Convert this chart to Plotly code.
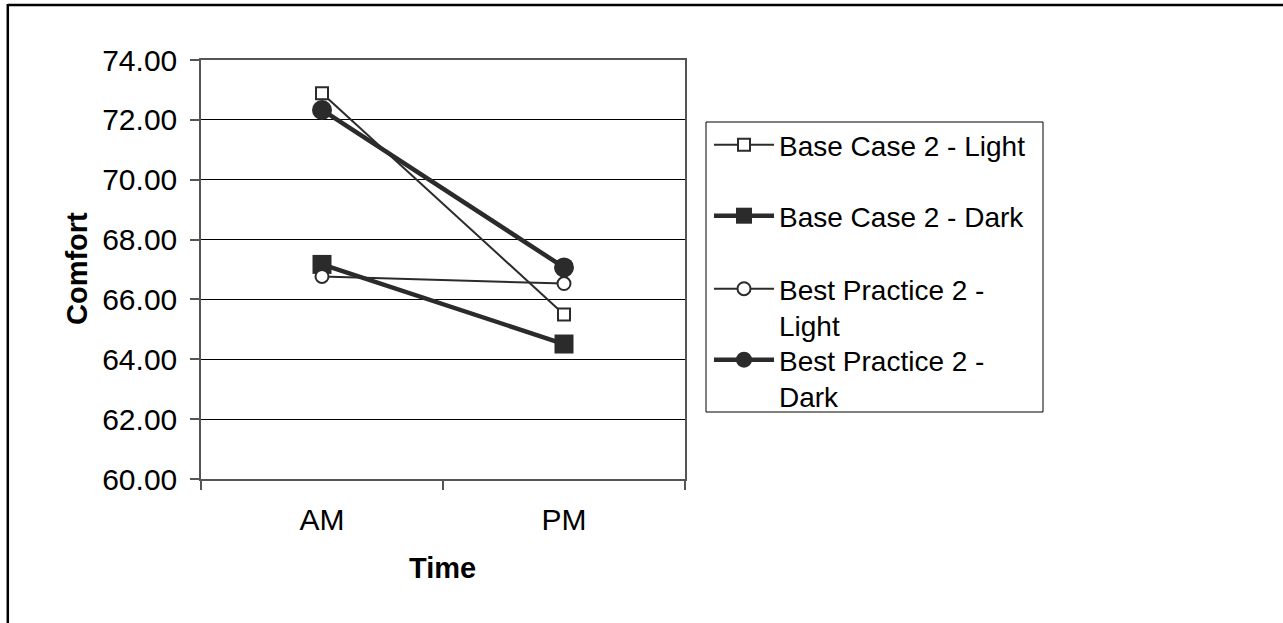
import plotly.graph_objects as go

# ---- data ----
times = ["AM", "PM"]
base_light = [72.89, 65.50]
base_dark = [67.17, 64.51]
best_light = [66.77, 66.53]
best_dark = [72.33, 67.07]
y_ticks = [60, 62, 64, 66, 68, 70, 72, 74]
series_names = ["Base Case 2 - Light", "Base Case 2 - Dark",
                "Best Practice 2 -<br>Light", "Best Practice 2 -<br>Dark"]

W, H = 1283, 623
L, R, T, B = 201, 685, 60, 479  # plot area in px
FONT = "Liberation Sans, Arial, sans-serif"
INK = "#2b2b2b"


def px(x):
    return (x - L) / (R - L)


def py(y):
    return (B - y) / (B - T)


fig = go.Figure()

styles = [
    dict(data=base_light, symbol="square", size=12, fill="white", lw=2, mlw=2),
    dict(data=base_dark, symbol="square", size=19, fill=INK, lw=4.5, mlw=0),
    dict(data=best_light, symbol="circle", size=13, fill="white", lw=2, mlw=2),
    dict(data=best_dark, symbol="circle", size=20, fill=INK, lw=4.5, mlw=0),
]
legend_ids = ["legend", "legend2", "legend3", "legend4"]
for name, st, lid in zip(series_names, styles, legend_ids):
    fig.add_trace(go.Scatter(
        x=times, y=st["data"], name=name, mode="lines+markers",
        legend=lid,
        line=dict(color=INK, width=st["lw"]),
        marker=dict(symbol=st["symbol"], size=st["size"], color=st["fill"],
                    line=dict(color=INK, width=st["mlw"])),
    ))

# one legend box per entry, so each entry sits where the reference has it
legend_tops = [120, 191, 264, 335]
legend_layout = {}
for lid, top in zip(legend_ids, legend_tops):
    legend_layout[lid] = dict(
        x=px(709), xanchor="left", y=py(top), yanchor="top",
        borderwidth=0, bgcolor="rgba(0,0,0,0)",
        font=dict(family=FONT, size=28, color="black"),
        itemsizing="trace", itemwidth=60, valign="top",
    )

fig.update_layout(
    width=W, height=H, autosize=False,
    margin=dict(l=L, r=W - R, t=T, b=H - B, pad=0),
    paper_bgcolor="white", plot_bgcolor="white",
    font=dict(family=FONT, size=28, color="black"),
    showlegend=True,
    **legend_layout,
    xaxis=dict(
        type="category", categoryorder="array", categoryarray=times,
        range=[-0.5, 1.5], tickson="boundaries",
        ticks="outside", ticklen=9, tickcolor="#555", tickwidth=1.5,
        showline=True, linecolor="#555", linewidth=1.5, mirror=True,
        showgrid=False, zeroline=False,
        tickfont=dict(family=FONT, size=30, color="black"),
        ticklabelstandoff=13,
    ),
    yaxis=dict(
        range=[60, 74], tickvals=y_ticks, tickformat=".2f",
        ticks="outside", ticklen=9, tickcolor="#555", tickwidth=1.5,
        showline=True, linecolor="#555", linewidth=1.5, mirror=True,
        showgrid=True, gridcolor="black", gridwidth=1, zeroline=False,
        tickfont=dict(family=FONT, size=30, color="black"),
        ticklabelstandoff=7,
    ),
    annotations=[
        dict(text="<b>Comfort</b>", xref="paper", yref="paper",
             x=px(77), y=py(269), textangle=-90, showarrow=False,
             xanchor="center", yanchor="middle",
             font=dict(family=FONT, size=29, color="black")),
        dict(text="<b>Time</b>", xref="paper", yref="paper",
             x=px(442), y=py(568), showarrow=False,
             xanchor="center", yanchor="middle",
             font=dict(family=FONT, size=29, color="black")),
    ],
    shapes=[
        # outer frame (top and left edges visible)
        dict(type="line", xref="paper", yref="paper",
             x0=px(7.8), y0=py(5), x1=px(W + 10), y1=py(5),
             line=dict(color="black", width=2.5)),
        dict(type="line", xref="paper", yref="paper",
             x0=px(7.8), y0=py(4), x1=px(7.8), y1=py(H + 10),
             line=dict(color="black", width=2.5)),
        # legend border
        dict(type="rect", xref="paper", yref="paper",
             x0=px(706), y0=py(122), x1=px(1043), y1=py(412),
             line=dict(color="black", width=1), fillcolor="rgba(0,0,0,0)",
             layer="below"),
    ],
)

fig.write_html("out.html",
               config={"displayModeBar": False},
               post_script="document.body.style.margin='0px';"
                           "document.body.style.overflow='hidden';")
